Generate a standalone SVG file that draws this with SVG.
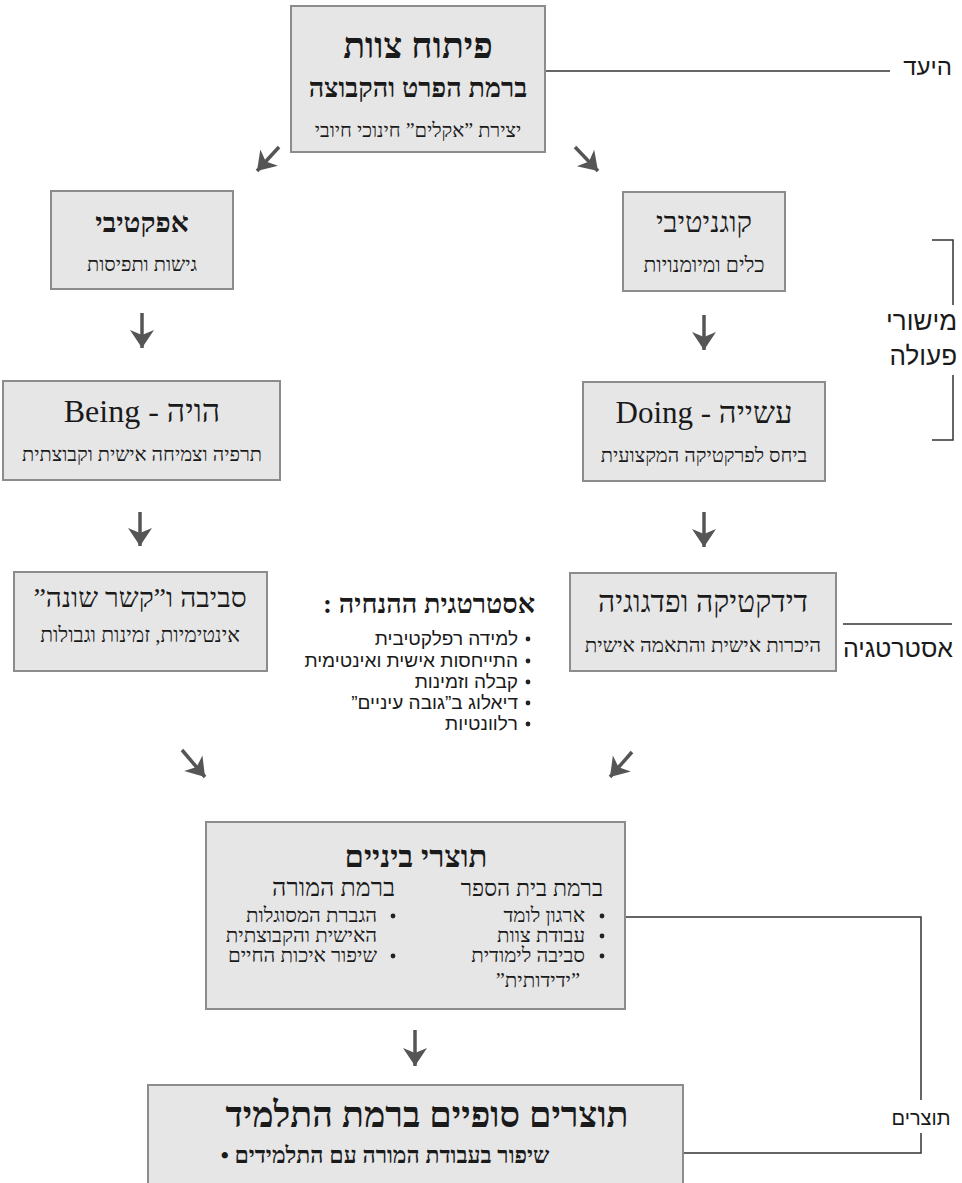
<svg xmlns="http://www.w3.org/2000/svg" width="962" height="1183" viewBox="0 0 962 1183">
<style>
.box{fill:#e6e6e6;stroke:#8c8c8c;stroke-width:2}
.t{font-family:"Liberation Serif","DejaVu Serif",serif;fill:#1a1a1a;direction:rtl;text-anchor:middle}
.s{font-family:"Liberation Sans","DejaVu Sans",sans-serif;fill:#1a1a1a;direction:rtl}
.b{font-weight:bold}
.r{text-anchor:start}
.c{text-anchor:middle}
.ln{stroke:#333;stroke-width:1.5;fill:none}
.ar{stroke:#555;stroke-width:3.5;fill:none;marker-end:url(#ah)}
.dot{fill:#222}
</style>
<defs>
<marker id="ah" markerUnits="userSpaceOnUse" markerWidth="26" markerHeight="26" viewBox="0 0 26 26" refX="21" refY="13" orient="auto">
<path d="M3,1 L21,13 L3,25 L8,13 Z" fill="#555"/>
</marker>
</defs>

<g id="connectors">
<path class="ln" d="M545,71 H890"/>
<path class="ln" d="M932,240 H953 V305 M953,375 V440 H932"/>
<path class="ln" d="M843,624 H952"/>
<path class="ln" d="M625,917 H921 V1100 M921,1133 V1153 H683"/>
<path class="ar" d="M279,147 L257,171"/>
<path class="ar" d="M575,147 L598,171"/>
<path class="ar" d="M142,313 V348"/>
<path class="ar" d="M704,315 V350"/>
<path class="ar" d="M140,512 V546"/>
<path class="ar" d="M704,512 V547"/>
<path class="ar" d="M182,750 L205,777"/>
<path class="ar" d="M632,752 L610,777"/>
<path class="ar" d="M415,1030 V1066"/>
</g>

<g id="goal">
<rect class="box" x="291" y="6" width="254" height="146"/>
<text class="t b" x="418" y="58" font-size="36">פיתוח צוות</text>
<text class="t b" x="418" y="97" font-size="27">ברמת הפרט והקבוצה</text>
<text class="t" x="418" y="137" font-size="20">יצירת ”אקלים” חינוכי חיובי</text>
</g>

<g id="affective">
<rect class="box" x="51" y="191" width="182" height="98"/>
<text class="t b" x="142" y="232" font-size="28">אפקטיבי</text>
<text class="t" x="142" y="271" font-size="20">גישות ותפיסות</text>
</g>

<g id="cognitive">
<rect class="box" x="623" y="192" width="162" height="99"/>
<text class="t" x="704" y="232" font-size="29">קוגניטיבי</text>
<text class="t" x="704" y="272" font-size="21">כלים ומיומנויות</text>
</g>

<g id="being">
<rect class="box" x="3" y="381" width="277" height="99"/>
<text class="t" x="142" y="422" font-size="32">הויה - Being</text>
<text class="t" x="142" y="461" font-size="20">תרפיה וצמיחה אישית וקבוצתית</text>
</g>

<g id="doing">
<rect class="box" x="583" y="382" width="242" height="99"/>
<text class="t" x="704" y="423" font-size="31">עשייה - Doing</text>
<text class="t" x="704" y="462" font-size="20">ביחס לפרקטיקה המקצועית</text>
</g>

<g id="environment">
<rect class="box" x="14" y="572" width="253" height="99"/>
<text class="t" x="140" y="607" font-size="28">סביבה ו”קשר שונה”</text>
<text class="t" x="140" y="642" font-size="21">אינטימיות, זמינות וגבולות</text>
</g>

<g id="didactics">
<rect class="box" x="570" y="573" width="266" height="98"/>
<text class="t" x="703" y="612" font-size="30">דידקטיקה ופדגוגיה</text>
<text class="t" x="703" y="652" font-size="20.5">היכרות אישית והתאמה אישית</text>
</g>

<g id="strategy-list">
<text class="t b r" x="535" y="613" font-size="27">אסטרטגית ההנחיה :</text>
<circle class="dot" cx="528" cy="639" r="2.4"/>
<circle class="dot" cx="528" cy="661" r="2.4"/>
<circle class="dot" cx="528" cy="682" r="2.4"/>
<circle class="dot" cx="528" cy="703" r="2.4"/>
<circle class="dot" cx="528" cy="724" r="2.4"/>
<text class="s r" x="518" y="645" font-size="19">למידה רפלקטיבית</text>
<text class="s r" x="518" y="667" font-size="19">התייחסות אישית ואינטימית</text>
<text class="s r" x="518" y="688" font-size="19">קבלה וזמינות</text>
<text class="s r" x="518" y="709" font-size="19">דיאלוג ב”גובה עיניים”</text>
<text class="s r" x="518" y="730" font-size="19">רלוונטיות</text>
</g>

<g id="intermediate">
<rect class="box" x="206" y="822" width="419" height="187"/>
<text class="t b" x="416" y="867" font-size="31">תוצרי ביניים</text>
<text class="t r" x="603" y="896" font-size="23">ברמת בית הספר</text>
<text class="t r" x="395" y="896" font-size="25">ברמת המורה</text>
<circle class="dot" cx="602" cy="916" r="2.4"/>
<circle class="dot" cx="602" cy="936" r="2.4"/>
<circle class="dot" cx="602" cy="956" r="2.4"/>
<text class="t r" x="585" y="922" font-size="20.5">ארגון לומד</text>
<text class="t r" x="585" y="942" font-size="20.5">עבודת צוות</text>
<text class="t r" x="585" y="962" font-size="20.5">סביבה לימודית</text>
<text class="t r" x="580" y="987" font-size="20.5">”ידידותית”</text>
<circle class="dot" cx="393" cy="916" r="2.4"/>
<circle class="dot" cx="393" cy="956" r="2.4"/>
<text class="t r" x="377" y="922" font-size="20.5">הגברת המסוגלות</text>
<text class="t r" x="377" y="942" font-size="20.5">האישית והקבוצתית</text>
<text class="t r" x="377" y="962" font-size="20.5">שיפור איכות החיים</text>
</g>

<g id="final">
<rect class="box" x="148" y="1085" width="535" height="110"/>
<text class="t b" x="427" y="1127" font-size="36">תוצרים סופיים ברמת התלמיד</text>
<text class="t b" x="385" y="1163" font-size="23">שיפור בעבודת המורה עם התלמידים •</text>
</g>

<g id="side-labels">
<text class="s r" x="952" y="75" font-size="24">היעד</text>
<text class="s r" x="957" y="330" font-size="26">מישורי</text>
<text class="s r" x="957" y="365" font-size="26">פעולה</text>
<text class="s r" x="953" y="657" font-size="25">אסטרטגיה</text>
<text class="s c" x="921" y="1125" font-size="20">תוצרים</text>
</g>
</svg>
